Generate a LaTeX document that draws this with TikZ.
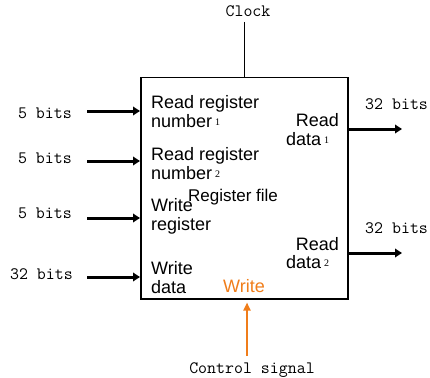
\documentclass[tikz,border=0pt]{standalone}
\usepackage{fontspec}
\setmainfont{Liberation Sans}
\newfontfamily\idxfont{Liberation Serif}
\usetikzlibrary{arrows.meta}
\definecolor{ctrlOrange}{HTML}{F07D1A}
\newcommand{\idx}[1]{\,\raisebox{2pt}{\idxfont\fontsize{10}{10}\selectfont #1}}

\begin{document}
\begin{tikzpicture}[x=1pt,y=-1pt,
  port/.style={inner sep=0pt,align=left,font=\fontsize{18}{19}\selectfont},
  bits/.style={inner sep=0pt,font=\ttfamily\fontsize{17.4}{17.4}\selectfont},
  bus/.style={line width=3pt,-{Triangle[length=7pt,width=8.5pt]}}]
\useasboundingbox (0,0) rectangle (430,377);

% register file block
\node[draw,line width=1.5pt,minimum width=207pt,minimum height=221pt,
      inner sep=0pt,anchor=north west] (rf) at (140,77) {};

% port names inside the block (base = last line)
\node[port,anchor=base west] (rrn1) at (151,127) {Read register\\number\idx{1}};
\node[port,anchor=base west] (rrn2) at (151,179) {Read register\\number\idx{2}};
\node[port,anchor=base west] (wreg) at (151,230) {Write\\register};
\node[port,anchor=base west] (wdat) at (151,293) {Write\\data};
\node[inner sep=0pt,anchor=base west,font=\fontsize{17}{17}\selectfont] (rfname) at (188,201) {Register file};
\node[port,anchor=base east] (rd1name) at (339,126) {Read};
\node[port,anchor=base west] (rd1sub) at (286,145) {data\idx{1}};
\node[port,anchor=base east] (rd2name) at (339,250) {Read};
\node[port,anchor=base west] (rd2sub) at (286,268) {data\idx{2}};
\node[port,anchor=base west,text=ctrlOrange] (wen) at (223,292) {Write};

% inputs
\coordinate (in1) at (87,111);
\coordinate (in2) at (87,161);
\coordinate (in3) at (87,218);
\coordinate (in4) at (87,277);
\draw[bus] (in1) -- (in1 -| rf.west);
\draw[bus] (in2) -- (in2 -| rf.west);
\draw[bus] (in3) -- (in3 -| rf.west);
\draw[bus] (in4) -- (in4 -| rf.west);
\node[bits,anchor=base east] (in1w) at (72,118) {5 bits};
\node[bits,anchor=base east] (in2w) at (72,163) {5 bits};
\node[bits,anchor=base east] (in3w) at (72,218) {5 bits};
\node[bits,anchor=base east] (in4w) at (73,279) {32 bits};

% outputs
\coordinate (out1) at (402,129);
\coordinate (out2) at (402,253);
\draw[bus] (out1 -| rf.east) -- (out1);
\draw[bus] (out2 -| rf.east) -- (out2);
\node[bits,anchor=base west] (out1w) at (365,109) {32 bits};
\node[bits,anchor=base west] (out2w) at (365,233) {32 bits};

% clock
\node[bits,anchor=base] (clk) at (248,17) {Clock};
\coordinate (clkin) at (244,22);
\draw[line width=1pt] (clkin) -- (clkin |- rf.north);

% write enable
\node[bits,anchor=base] (ctl) at (252,373) {Control signal};
\coordinate (ctlin) at (247,356);
\draw[ctrlOrange,line width=2pt,-{Triangle[length=8pt,width=7pt]},shorten >=3pt]
  (ctlin) -- (ctlin |- rf.south);
\end{tikzpicture}
\end{document}
